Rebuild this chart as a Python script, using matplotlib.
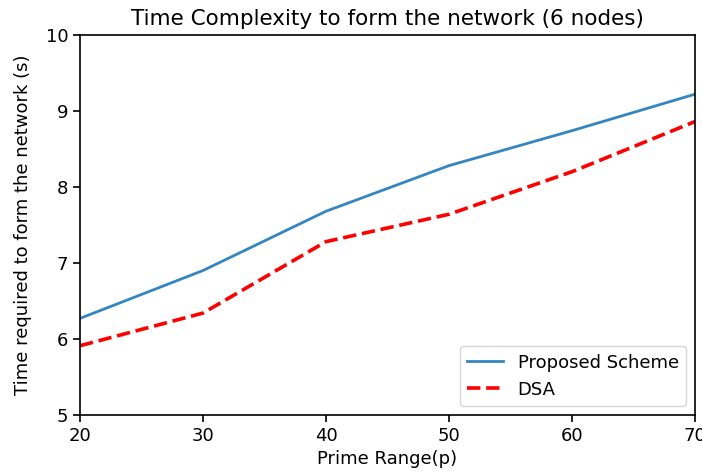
import matplotlib
matplotlib.use('Agg')
import matplotlib.pyplot as plt

# prime range values on x
prime_range = [20, 30, 40, 50, 60, 70]
proposed = [6.27, 6.90, 7.68, 8.28, 8.74, 9.22]
dsa = [5.91, 6.34, 7.28, 7.64, 8.20, 8.86]

fig = plt.figure(figsize=(7.02, 4.72), dpi=100)
ax = fig.add_axes([0.114, 0.121, 0.876, 0.805])

ax.plot(prime_range, proposed, color='#3486c2', linewidth=2.0, label='Proposed Scheme')
ax.plot(prime_range, dsa, color='red', linestyle='--', linewidth=2.6, label='DSA')

ax.set_xlim(20, 70)
ax.set_ylim(5, 10)
ax.set_title('Time Complexity to form the network (6 nodes)', fontsize=15.5, pad=7)
ax.set_xlabel('Prime Range(p)', fontsize=13, labelpad=4)
ax.set_ylabel('Time required to form the network (s)', fontsize=13, labelpad=10)
ax.tick_params(labelsize=13, width=1.2, length=5)
for sp in ax.spines.values():
    sp.set_linewidth(1.2)
ax.legend(loc='lower right', fontsize=13)

fig.savefig('out.png', dpi=100)
